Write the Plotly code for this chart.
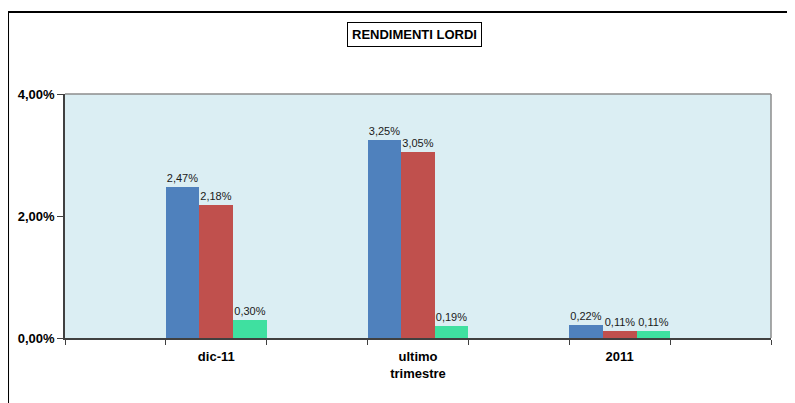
import plotly.graph_objects as go

categories = ["dic-11", "ultimo<br>trimestre", "2011"]
serie_a = [0.0247, 0.0325, 0.0022]
serie_b = [0.0218, 0.0305, 0.0011]
serie_c = [0.0030, 0.0019, 0.0011]
colors = ["#4F81BD", "#C0504D", "#3FE0A0"]
y_ticks = [0, 0.02, 0.04]

# Excel-like layout: empty slots between categories
slots = [" "]
for i, c in enumerate(categories):
    slots.append(c)
    slots.append(" " * (i + 2))

def expand(vals):
    out = [None]
    for v in vals:
        out.append(v)
        out.append(None)
    return out

FONT = "Liberation Sans, Arial"

fig = go.Figure()
for vals, col in zip([serie_a, serie_b, serie_c], colors):
    fig.add_trace(go.Bar(
        x=slots, y=expand(vals), marker=dict(color=col, line=dict(width=0)),
        texttemplate="%{y:.2%}", textposition="outside", cliponaxis=False,
        textfont=dict(family=FONT, size=11, color="#1a1a1a"),
        showlegend=False,
    ))

# page body has an 8px offset; plot area target: x 65..771, y 94..338
L, T, PW, PH = 57, 86, 706, 244
fig.update_layout(
    width=795, height=403,
    margin=dict(l=L, r=795 - L - PW, t=T, b=403 - T - PH),
    paper_bgcolor="white", plot_bgcolor="#DBEEF3",
    barmode="group", bargap=0, bargroupgap=0,
    separators=",.",
    font=dict(family=FONT, color="#000"),
    xaxis=dict(type="category", categoryorder="array", categoryarray=slots,
               tickson="boundaries", ticks="outside", ticklen=5, tickcolor="#404040",
               showline=True, linecolor="#404040", linewidth=1.5, showgrid=False,
               automargin=False, ticklabelstandoff=6,
               tickfont=dict(size=13, family=FONT, color="#000", weight="bold")),
    yaxis=dict(range=[0, 0.04], tickvals=y_ticks, tickformat=".2%",
               ticks="outside", ticklen=6, tickcolor="#404040",
               showline=True, linecolor="#404040", linewidth=1.5, showgrid=False,
               zeroline=False, automargin=False,
               tickfont=dict(size=13, family=FONT, color="#000", weight="bold")),
    shapes=[
        dict(type="line", xref="paper", yref="paper", x0=0, x1=1, y0=1, y1=1,
             line=dict(color="#8C8C8C", width=1.5)),
        dict(type="line", xref="paper", yref="paper", x0=1, x1=1, y0=0, y1=1,
             line=dict(color="#8C8C8C", width=1.5)),
        dict(type="line", xref="paper", yref="paper", x0=-0.0807, x1=1.2,
             y0=1.336, y1=1.336, line=dict(color="#000", width=2)),
        dict(type="line", xref="paper", yref="paper", x0=-0.0807, x1=-0.0807,
             y0=1.336, y1=-0.4, line=dict(color="#000", width=2)),
    ],
    annotations=[dict(text="<b>RENDIMENTI LORDI</b>", xref="paper", yref="paper",
                      x=(414 - 65) / PW, y=1 + (94 - 35) / PH, showarrow=False,
                      xanchor="center", yanchor="middle",
                      font=dict(size=13, family=FONT, color="#000"),
                      bordercolor="#000", borderwidth=1, borderpad=4,
                      bgcolor="white")],
)

fig.write_html("out.html")
